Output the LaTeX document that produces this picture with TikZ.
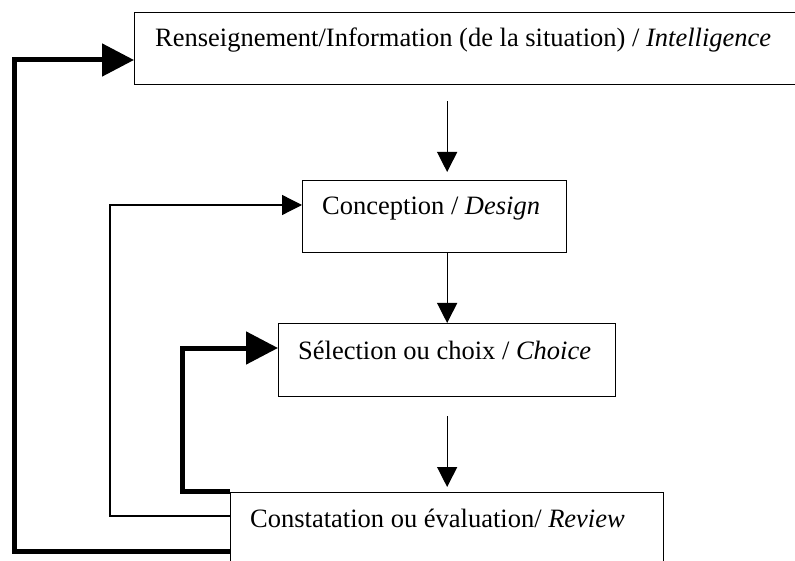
\documentclass[tikz,border=0pt]{standalone}
\usepackage{fontspec}
\setmainfont{Liberation Serif}
\usetikzlibrary{arrows.meta,calc}
\tikzset{
  box/.style={draw, line width=1.3pt, rectangle, anchor=north west, inner sep=0pt},
  lbl/.style={anchor=base west, inner sep=0pt, font=\fontsize{26.5}{30}\selectfont},
  thinarr/.style={line width=1.3pt, -{Triangle[length=20pt,width=20pt]}},
  thickarr/.style={line width=5pt, line join=miter, -{Triangle[length=32pt,width=32pt]}},
  thinline/.style={line width=1.3pt}
}
\begin{document}
\begin{tikzpicture}[x=1pt,y=-1pt]
\clip (0,0) rectangle (795,561);
\fill[white] (0,0) rectangle (795,561);
% boxes
\node[box, minimum width=766pt, minimum height=72pt] (info) at (134,12) {};
\node[box, minimum width=264pt, minimum height=72pt] (des) at (302,180) {};
\node[box, minimum width=337pt, minimum height=73pt] (sel) at (278,323) {};
\node[box, minimum width=433pt, minimum height=130pt] (rev) at (230,492) {};
% labels
\node[lbl] (infoT) at ([xshift=21pt,yshift=-35pt]info.north west) {Renseignement/Information (de la situation) / \textit{Intelligence}};
\node[lbl] (desT) at ([xshift=20pt,yshift=-35pt]des.north west) {Conception / \textit{Design}};
\node[lbl] (selT) at ([xshift=20pt,yshift=-36pt]sel.north west) {Sélection ou choix / \textit{Choice}};
\node[lbl] (revT) at ([xshift=20pt,yshift=-35pt]rev.north west) {Constatation ou évaluation/ \textit{Review}};
% forward arrows
\draw[thinarr, shorten <=16pt, shorten >=8pt] (info.south -| sel.north) -- (des.north -| sel.north);
\draw[thinarr] (des.south -| sel.north) -- (sel.north);
\draw[thinarr, shorten <=19pt, shorten >=5pt] (sel.south) -- (rev.north -| sel.south);
% feedback loops
\coordinate (c1) at (14,300);
\coordinate (c2) at (110,300);
\coordinate (c3) at (182,400);
\draw[thickarr] ([yshift=-59pt]rev.north west) -| (c1) |- ([yshift=-48pt]info.north west);
\draw[thinline, -{Triangle[length=20pt,width=20pt]}] ([yshift=-24pt]rev.north west) -| (c2) |- ([yshift=-25pt]des.north west);
\draw[thickarr] ([yshift=1pt]rev.north west) -| (c3) |- ([yshift=-25pt]sel.north west);
\end{tikzpicture}
\end{document}
